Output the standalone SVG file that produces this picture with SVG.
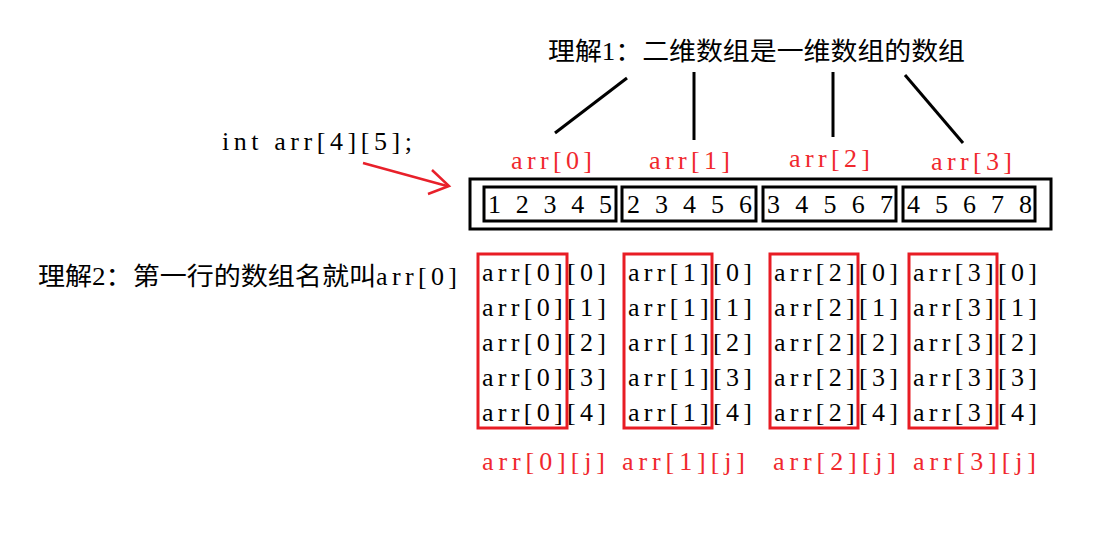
<svg xmlns="http://www.w3.org/2000/svg" width="1119" height="536" viewBox="0 0 1119 536">
<style>
text{font-family:"Liberation Serif","Noto Sans CJK SC",serif;font-size:26px;fill:#000}
.cn{font-size:25px}
.lat{font-size:26px}
.red{fill:#f0282d}
.blk{fill:none;stroke:#000;stroke-width:3}
.rbox{fill:none;stroke:#e81c24;stroke-width:3}
.ln{stroke:#000;stroke-width:3;fill:none}
</style>
<rect width="1119" height="536" fill="#fff"/>
<g id="title"><text class="cn" x="548" y="60" textLength="417" lengthAdjust="spacingAndGlyphs">理解1：二维数组是一维数组的数组</text></g>
<g id="decl"><text x="222" y="150" textLength="190" lengthAdjust="spacing">int arr[4][5];</text></g>
<g id="note2"><text class="cn" x="38" y="285"><tspan textLength="338" lengthAdjust="spacingAndGlyphs">理解2：第一行的数组名就叫</tspan><tspan class="lat" x="376" textLength="81" lengthAdjust="spacing">arr[0]</tspan></text></g>
<g id="connectors">
<line class="ln" x1="627" y1="78" x2="555" y2="133"/>
<line class="ln" x1="694" y1="72" x2="694" y2="140"/>
<line class="ln" x1="833" y1="72" x2="833" y2="137"/>
<line class="ln" x1="905" y1="75" x2="963" y2="143"/>
<g stroke="#e8202a" stroke-width="2.5" fill="none">
<line x1="363" y1="163" x2="447" y2="186"/>
<polyline points="432,170 449,186 428,194"/>
</g>
</g>
<g id="rowlabels">
<text class="red" x="511" y="169" textLength="81" lengthAdjust="spacing">arr[0]</text>
<text class="red" x="649" y="169" textLength="81" lengthAdjust="spacing">arr[1]</text>
<text class="red" x="789" y="167" textLength="81" lengthAdjust="spacing">arr[2]</text>
<text class="red" x="931" y="170" textLength="81" lengthAdjust="spacing">arr[3]</text>
</g>
<g id="memory">
<rect class="blk" x="470" y="179" width="581" height="50"/>
<g id="mem0"><rect class="blk" x="484" y="187" width="132" height="34"/><text x="488" y="213" textLength="124" lengthAdjust="spacing">1 2 3 4 5</text></g>
<g id="mem1"><rect class="blk" x="622" y="187" width="134" height="34"/><text x="627" y="213" textLength="125" lengthAdjust="spacing">2 3 4 5 6</text></g>
<g id="mem2"><rect class="blk" x="763" y="187" width="133" height="34"/><text x="767" y="213" textLength="126" lengthAdjust="spacing">3 4 5 6 7</text></g>
<g id="mem3"><rect class="blk" x="903" y="187" width="132" height="34"/><text x="907" y="213" textLength="125" lengthAdjust="spacing">4 5 6 7 8</text></g>
</g>
<g id="col0">
<rect class="rbox" x="478" y="254" width="89" height="174"/>
<text x="482" y="281" textLength="124" lengthAdjust="spacing">arr[0][0]</text>
<text x="482" y="316" textLength="124" lengthAdjust="spacing">arr[0][1]</text>
<text x="482" y="351" textLength="124" lengthAdjust="spacing">arr[0][2]</text>
<text x="482" y="386" textLength="124" lengthAdjust="spacing">arr[0][3]</text>
<text x="482" y="421" textLength="124" lengthAdjust="spacing">arr[0][4]</text>
<text class="red" x="482" y="470" textLength="123" lengthAdjust="spacing">arr[0][j]</text>
</g>
<g id="col1">
<rect class="rbox" x="624" y="254" width="88" height="174"/>
<text x="628" y="281" textLength="124" lengthAdjust="spacing">arr[1][0]</text>
<text x="628" y="316" textLength="124" lengthAdjust="spacing">arr[1][1]</text>
<text x="628" y="351" textLength="124" lengthAdjust="spacing">arr[1][2]</text>
<text x="628" y="386" textLength="124" lengthAdjust="spacing">arr[1][3]</text>
<text x="628" y="421" textLength="124" lengthAdjust="spacing">arr[1][4]</text>
<text class="red" x="622" y="470" textLength="123" lengthAdjust="spacing">arr[1][j]</text>
</g>
<g id="col2">
<rect class="rbox" x="770" y="254" width="88" height="174"/>
<text x="774" y="281" textLength="124" lengthAdjust="spacing">arr[2][0]</text>
<text x="774" y="316" textLength="124" lengthAdjust="spacing">arr[2][1]</text>
<text x="774" y="351" textLength="124" lengthAdjust="spacing">arr[2][2]</text>
<text x="774" y="386" textLength="124" lengthAdjust="spacing">arr[2][3]</text>
<text x="774" y="421" textLength="124" lengthAdjust="spacing">arr[2][4]</text>
<text class="red" x="773" y="470" textLength="123" lengthAdjust="spacing">arr[2][j]</text>
</g>
<g id="col3">
<rect class="rbox" x="909" y="254" width="88" height="174"/>
<text x="913" y="281" textLength="124" lengthAdjust="spacing">arr[3][0]</text>
<text x="913" y="316" textLength="124" lengthAdjust="spacing">arr[3][1]</text>
<text x="913" y="351" textLength="124" lengthAdjust="spacing">arr[3][2]</text>
<text x="913" y="386" textLength="124" lengthAdjust="spacing">arr[3][3]</text>
<text x="913" y="421" textLength="124" lengthAdjust="spacing">arr[3][4]</text>
<text class="red" x="913" y="470" textLength="123" lengthAdjust="spacing">arr[3][j]</text>
</g>
</svg>
